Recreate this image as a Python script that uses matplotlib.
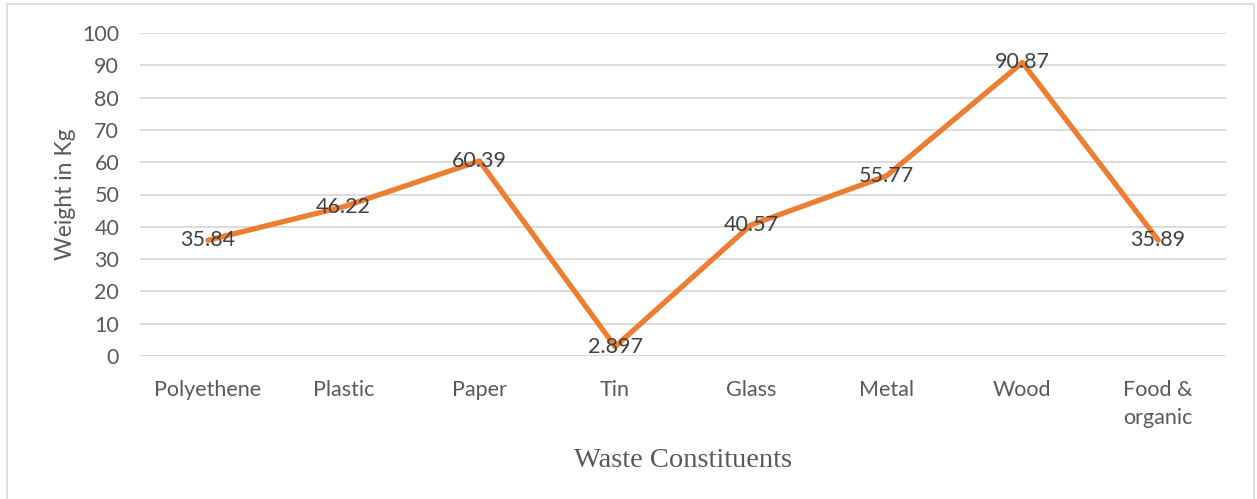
import matplotlib.pyplot as plt
from matplotlib.patches import Rectangle

# waste composition (kg)
constituents = ['Polyethene', 'Plastic', 'Paper', 'Tin', 'Glass', 'Metal', 'Wood', 'Food &\norganic']
weights = [35.84, 46.22, 60.39, 2.897, 40.57, 55.77, 90.87, 35.89]
value_labels = ['35.84', '46.22', '60.39', '2.897', '40.57', '55.77', '90.87', '35.89']

plt.rcParams['font.family'] = ['Lato', 'DejaVu Sans']

fig = plt.figure(figsize=(12.57, 4.99), dpi=100)
ax = fig.add_axes([140 / 1257, 1 - 356 / 499, (1226 - 140) / 1257, (356 - 33) / 499])

# thin frame around the whole chart
fig.patches.append(Rectangle((7 / 1257, -0.01), 1247 / 1257, 1 - 4 / 499 + 0.01,
                             transform=fig.transFigure, fill=False,
                             edgecolor='#d9d9d9', linewidth=1.2))

x = list(range(len(constituents)))
ax.plot(x, weights, color='#ED7D31', linewidth=3.8, solid_capstyle='round',
        solid_joinstyle='round', zorder=3)
for xi, yi, lab in zip(x, weights, value_labels):
    ax.text(xi, yi, lab, ha='center', va='center', fontsize=15.5, color='#404040', zorder=4)

ax.set_xlim(-0.5, len(constituents) - 0.5)
ax.set_ylim(0, 100)
ax.set_yticks(range(0, 101, 10))
ax.set_xticks(x)
ax.set_xticklabels(constituents, fontsize=15.5, color='#595959', linespacing=1.55, va='top')
ax.tick_params(axis='y', labelsize=15.5, labelcolor='#595959', length=0, pad=15)
ax.tick_params(axis='x', length=0, pad=17)
ax.grid(axis='y', color='#d9d9d9', linewidth=1.3)
ax.set_axisbelow(True)
for s in ax.spines.values():
    s.set_visible(False)

ax.set_ylabel('Weight in Kg', fontsize=16.5, color='#595959', labelpad=4)
ax.set_xlabel('Waste Constituents', fontsize=20.5, color='#595959',
              family=['Liberation Serif'], labelpad=14)

fig.savefig('out.png', dpi=100)
